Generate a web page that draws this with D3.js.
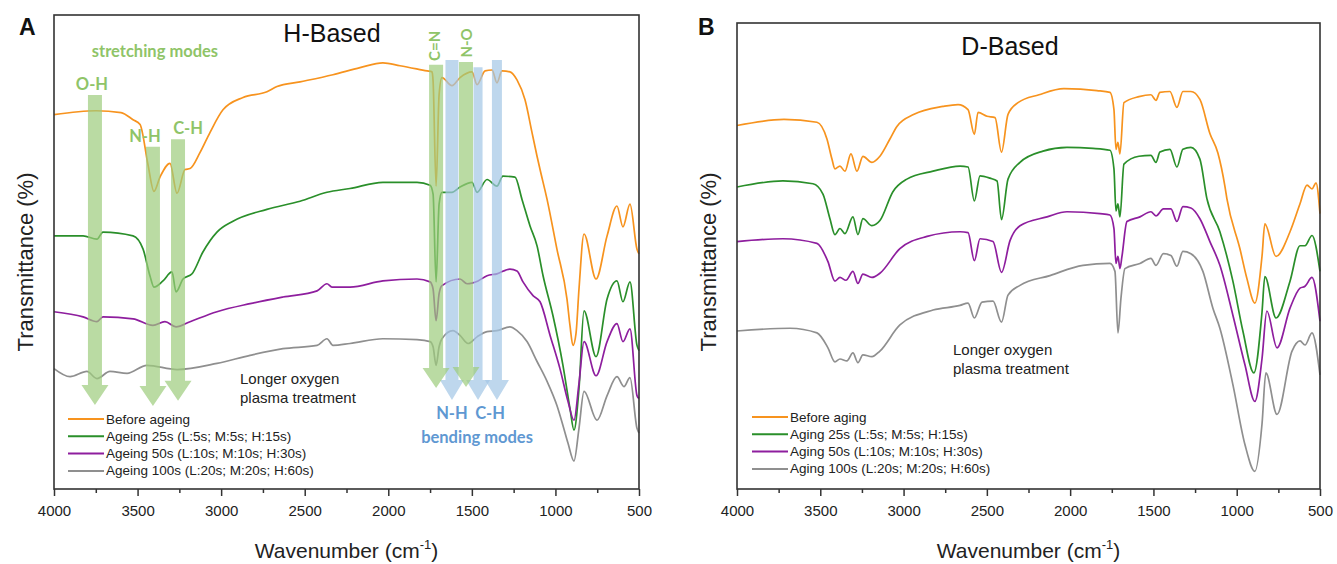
<!DOCTYPE html>
<html>
<head>
<meta charset="utf-8">
<script src="https://cdn.jsdelivr.net/npm/d3@7"></script>
<style>
  body { margin: 0; background: #fff; }
  svg { display: block; font-family: 'Liberation Sans', Arial, sans-serif; }
</style>
</head>
<body>
<svg id="chart" width="1337" height="564"></svg>
<script>
// Wavenumber axis (cm-1), shared by both panels.
const WAVENUMBER_TICKS = [4000, 3500, 3000, 2500, 2000, 1500, 1000, 500];
const WAVENUMBER_MINOR_TICKS = [3750, 3250, 2750, 2250, 1750, 1250, 750];

const SERIES_COLORS = ['#f7931e', '#2a8f2a', '#8e1e9e', '#8f8f8f'];
const H_LEGEND = [
  'Before ageing',
  'Ageing 25s (L:5s; M:5s; H:15s)',
  'Ageing 50s (L:10s; M:10s; H:30s)',
  'Ageing 100s (L:20s; M:20s; H:60s)',
];
const D_LEGEND = [
  'Before aging',
  'Aging 25s (L:5s; M:5s; H:15s)',
  'Aging 50s (L:10s; M:10s; H:30s)',
  'Aging 100s (L:20s; M:20s; H:60s)',
];

// Spectra as [wavenumber, transmittance (offset, a.u.)].
const H_BEFORE = [
  [4000, 79.0], [3749, 79.8], [3599, 79.4], [3527, 77.9], [3485, 76.9],
  [3438, 68.5], [3402, 62.8], [3366, 65.8], [3306, 68.7], [3264, 62.4],
  [3216, 67.4], [3186, 67.6], [3126, 71.0], [3067, 75.2], [2989, 80.0],
  [2869, 82.6], [2726, 83.8], [2666, 84.9], [2528, 85.9], [2331, 87.4],
  [2169, 88.9], [2032, 89.9], [1930, 89.3], [1768, 88.2], [1738, 88.0],
  [1732, 86.1], [1714, 63.9], [1696, 83.2], [1679, 86.8], [1619, 85.1],
  [1571, 86.8], [1499, 88.0], [1469, 85.3], [1421, 88.2], [1379, 88.4],
  [1350, 85.7], [1320, 88.2], [1272, 88.0], [1230, 86.3], [1182, 82.1],
  [1140, 75.2], [1110, 70.2], [1092, 67.4], [1050, 61.1], [991, 50.6],
  [931, 40.1], [913, 34.5], [895, 30.3], [877, 32.8], [859, 42.2],
  [829, 53.8], [757, 44.3], [691, 53.4], [632, 59.7], [596, 55.3],
  [554, 60.1], [512, 50.6], [500, 49.6],
];
const H_AGE25 = [
  [4000, 53.4], [3826, 53.4], [3743, 52.7], [3707, 54.2], [3527, 53.4],
  [3467, 50.6], [3426, 45.0], [3402, 42.6], [3348, 43.9], [3294, 45.8],
  [3270, 41.6], [3228, 44.3], [3174, 45.4], [3109, 50.0], [3025, 54.2],
  [2929, 56.5], [2726, 59.0], [2528, 60.7], [2367, 62.6], [2229, 63.4],
  [2032, 64.7], [1828, 64.7], [1750, 64.1], [1732, 62.2], [1714, 43.7],
  [1696, 60.1], [1679, 62.6], [1619, 62.6], [1571, 63.7], [1499, 64.7],
  [1469, 62.6], [1409, 65.3], [1350, 63.9], [1314, 66.0], [1242, 65.8],
  [1200, 61.1], [1152, 55.5], [1110, 51.3], [1074, 45.0], [1015, 36.6],
  [955, 26.1], [913, 17.0], [889, 12.4], [859, 21.2], [829, 37.6],
  [757, 27.9], [691, 40.1], [632, 43.9], [596, 39.5], [554, 43.7],
  [512, 30.3], [500, 29.2],
];
const H_AGE50 = [
  [4000, 37.4], [3826, 36.3], [3743, 35.3], [3707, 36.3], [3527, 35.9],
  [3408, 34.5], [3336, 35.3], [3270, 34.2], [3186, 35.3], [3025, 37.4],
  [2827, 39.1], [2630, 40.5], [2426, 41.8], [2367, 43.3], [2337, 42.6],
  [2229, 42.6], [2032, 43.9], [1828, 44.3], [1750, 43.7], [1732, 42.2],
  [1714, 35.5], [1696, 41.2], [1679, 42.9], [1571, 44.3], [1529, 43.3],
  [1463, 43.9], [1409, 45.0], [1350, 45.4], [1272, 46.4], [1230, 46.0],
  [1194, 43.7], [1134, 40.8], [1092, 39.5], [1032, 32.4], [973, 25.4],
  [925, 18.5], [889, 14.5], [859, 22.3], [829, 31.1], [757, 23.9],
  [691, 31.1], [632, 34.9], [596, 31.1], [554, 33.8], [512, 19.7],
  [500, 19.1],
];
const H_AGE100 = [
  [4000, 25.4], [3904, 23.7], [3803, 24.8], [3743, 23.3], [3665, 24.8],
  [3563, 24.4], [3444, 26.1], [3264, 25.2], [3025, 26.5], [2827, 28.2],
  [2630, 29.6], [2426, 30.3], [2367, 31.7], [2331, 30.3], [2229, 30.7],
  [2032, 31.7], [1828, 31.5], [1750, 31.1], [1732, 30.0], [1714, 26.1],
  [1696, 30.0], [1679, 31.7], [1613, 33.4], [1571, 32.4], [1523, 30.7],
  [1469, 32.1], [1409, 33.2], [1350, 33.4], [1272, 34.2], [1230, 33.4],
  [1170, 31.1], [1110, 26.9], [1050, 22.7], [991, 17.6], [955, 13.4],
  [925, 9.7], [889, 5.9], [859, 12.8], [829, 20.6], [751, 14.5],
  [691, 19.7], [632, 23.7], [590, 21.6], [554, 23.5], [512, 12.8],
  [500, 11.8],
];

const D_BEFORE = [
  [4000, 78.0], [3718, 79.3], [3520, 78.7], [3460, 75.1], [3430, 70.8],
  [3412, 68.7], [3382, 69.3], [3352, 68.2], [3316, 71.9], [3280, 68.2],
  [3244, 71.4], [3190, 70.1], [3142, 71.4], [3082, 75.1], [3040, 77.8],
  [2937, 80.4], [2763, 82.1], [2673, 82.5], [2613, 81.4], [2575, 76.1],
  [2553, 80.8], [2499, 80.0], [2451, 79.7], [2412, 72.3], [2373, 80.4],
  [2313, 82.9], [2187, 84.6], [2037, 85.9], [1839, 85.5], [1761, 85.1],
  [1737, 81.4], [1725, 72.9], [1713, 74.4], [1701, 71.9], [1677, 82.9],
  [1587, 84.2], [1515, 84.6], [1485, 83.4], [1461, 85.1], [1401, 85.3],
  [1359, 81.9], [1323, 85.3], [1275, 85.3], [1221, 83.6], [1161, 76.3],
  [1113, 72.1], [1071, 65.0], [1059, 62.3], [981, 51.6], [939, 45.2],
  [891, 39.9], [848, 50.0], [831, 56.9], [764, 49.9], [680, 55.2],
  [620, 61.2], [578, 65.2], [548, 64.4], [524, 65.7], [500, 59.1],
];
const D_AGE25 = [
  [4000, 64.8], [3724, 66.1], [3544, 65.5], [3484, 63.3], [3442, 58.0],
  [3412, 54.6], [3382, 55.9], [3352, 54.8], [3304, 58.4], [3274, 54.6],
  [3244, 58.0], [3190, 56.5], [3142, 57.6], [3064, 63.8], [2980, 66.5],
  [2823, 68.2], [2661, 69.3], [2613, 69.1], [2575, 61.8], [2541, 67.2],
  [2481, 66.7], [2439, 66.1], [2412, 57.8], [2373, 66.5], [2301, 70.1],
  [2163, 72.5], [2019, 73.3], [1863, 73.1], [1761, 72.7], [1737, 68.7],
  [1725, 59.7], [1713, 61.2], [1701, 58.4], [1677, 69.7], [1587, 71.4],
  [1515, 71.6], [1485, 70.1], [1461, 72.3], [1401, 72.9], [1359, 69.1],
  [1323, 72.9], [1275, 73.3], [1221, 70.8], [1179, 62.3], [1101, 55.2],
  [1023, 44.6], [963, 33.9], [897, 24.9], [848, 38.0], [831, 45.6],
  [764, 36.7], [680, 44.6], [620, 52.2], [590, 52.2], [548, 54.4],
  [500, 46.7],
];
const D_AGE50 = [
  [4000, 53.1], [3724, 53.7], [3520, 52.7], [3454, 48.8], [3412, 44.6],
  [3382, 45.4], [3346, 44.8], [3304, 46.7], [3274, 44.1], [3244, 46.1],
  [3190, 45.4], [3142, 46.3], [3022, 51.6], [2859, 54.2], [2661, 55.2],
  [2613, 55.0], [2575, 49.0], [2541, 53.7], [2463, 53.1], [2412, 46.5],
  [2361, 53.3], [2301, 56.5], [2139, 58.4], [2019, 59.5], [1821, 59.1],
  [1761, 58.8], [1737, 55.9], [1725, 48.4], [1713, 49.9], [1701, 47.3],
  [1689, 49.9], [1659, 57.4], [1581, 58.4], [1515, 59.5], [1485, 58.6],
  [1440, 60.1], [1395, 60.1], [1359, 57.4], [1323, 60.6], [1275, 60.3],
  [1221, 58.0], [1161, 53.1], [1101, 48.0], [1023, 37.3], [951, 26.7],
  [891, 18.8], [848, 28.0], [819, 38.2], [758, 30.3], [680, 38.8],
  [620, 43.1], [590, 43.5], [548, 45.4], [500, 36.0],
];
const D_AGE100 = [
  [4000, 33.9], [3682, 34.5], [3520, 33.5], [3454, 30.3], [3412, 27.3],
  [3382, 27.9], [3340, 27.5], [3304, 29.2], [3274, 27.1], [3244, 28.8],
  [3190, 28.4], [3142, 29.6], [3022, 35.2], [2823, 38.4], [2661, 39.4],
  [2613, 39.9], [2575, 36.7], [2529, 40.1], [2463, 40.3], [2412, 35.8],
  [2373, 41.6], [2301, 43.7], [2121, 45.8], [1923, 48.0], [1761, 48.4],
  [1731, 46.7], [1713, 33.5], [1695, 40.9], [1671, 47.3], [1581, 48.4],
  [1515, 49.5], [1485, 48.0], [1440, 50.5], [1395, 50.1], [1359, 47.8],
  [1323, 51.0], [1275, 50.5], [1203, 46.7], [1143, 38.8], [1101, 34.5],
  [1023, 22.4], [951, 9.6], [891, 3.8], [848, 14.0], [825, 24.9],
  [758, 16.0], [668, 29.6], [620, 31.8], [590, 30.9], [548, 33.5],
  [500, 24.5],
];

// Band markers in panel A: [wavenumber, top, tip] in plot units.
const STRETCH_ARROWS = [[3755, 83.1, 17.7], [3408, 72.2, 17.5],
  [3258, 73.8, 18.6], [1714, 89.5, 21.3], [1535, 90.1, 21.5]];
const BEND_ARROWS = [[1619, 90.5, 18.8], [1463, 89.0, 18.8],
  [1350, 90.5, 18.8]];
const BEND_SHAFTS = [13, 9, 10];
// Band labels: [text, wavenumber, level].
const STRETCH_LABELS = [['stretching modes', 3396, 91.1], ['O-H', 3773, 84.2],
  ['N-H', 3456, 73.2], ['C-H', 3198, 74.9]];
const VERTICAL_LABELS = [['C=N', 1726, 93.5], ['N-O', 1535, 94.1]];
const BEND_LABELS = [['N-H', 1619, 14.8], ['C-H', 1391, 14.8],
  ['bending modes', 1469, 9.7]];

const GREEN_BAND = '#9ccc7c';
const BLUE_BAND = '#a3c6e6';
const GREEN_TEXT = '#8fc468';
const BLUE_TEXT = '#5f98d2';

const svg = d3.select('#chart');

/**
 * Draws one arrow (shaft + triangular head) pointing down.
 */
function drawArrow(g, cx, yTop, yTip, shaft, head, color) {
  const headH = 20;
  const path = d3.path();
  path.moveTo(cx - shaft / 2, yTop);
  path.lineTo(cx + shaft / 2, yTop);
  path.lineTo(cx + shaft / 2, yTip - headH);
  path.lineTo(cx + head / 2, yTip - headH);
  path.lineTo(cx, yTip);
  path.lineTo(cx - head / 2, yTip - headH);
  path.lineTo(cx - shaft / 2, yTip - headH);
  path.closePath();
  g.append('path')
      .attr('d', path.toString())
      .attr('fill', color)
      .attr('fill-opacity', 0.7);
}

function drawPanel(cfg) {
  const {left, right, top, bottom} = cfg;
  const x = d3.scaleLinear().domain([4000, 500]).range([left, right]);
  const y = d3.scaleLinear().domain([0, 100]).range([bottom, top]);
  const g = svg.append('g');

  const line = d3.line()
      .x(d => x(d[0]))
      .y(d => y(d[1]))
      .curve(d3.curveMonotoneX);

  g.append('g')
      .selectAll('path')
      .data(cfg.series)
      .join('path')
      .attr('d', d => line(d))
      .attr('fill', 'none')
      .attr('stroke', (d, i) => SERIES_COLORS[i])
      .attr('stroke-width', 1.7)
      .attr('stroke-linejoin', 'round');

  if (cfg.bands) {
    cfg.bands(g, x, y);
  }

  // Frame.
  g.append('rect')
      .attr('x', left)
      .attr('y', top)
      .attr('width', right - left)
      .attr('height', bottom - top)
      .attr('fill', 'none')
      .attr('stroke', '#333')
      .attr('stroke-width', 1.6);

  const axis = g.append('g')
      .attr('transform', `translate(0,${bottom})`)
      .call(d3.axisBottom(x)
          .tickValues(WAVENUMBER_TICKS)
          .tickSize(7)
          .tickPadding(9)
          .tickFormat(d3.format('d')));
  axis.select('.domain').remove();
  axis.selectAll('line').attr('stroke', '#333').attr('stroke-width', 1.5);
  axis.selectAll('text')
      .attr('font-size', 15)
      .attr('fill', '#222')
      .attr('font-family', 'Liberation Sans, Arial, sans-serif');

  const minor = g.append('g')
      .attr('transform', `translate(0,${bottom})`)
      .call(d3.axisBottom(x)
          .tickValues(WAVENUMBER_MINOR_TICKS)
          .tickSize(4)
          .tickFormat(''));
  minor.select('.domain').remove();
  minor.selectAll('line').attr('stroke', '#333').attr('stroke-width', 1.5);

  // Axis titles.
  const xTitle = g.append('text')
      .attr('x', (left + right) / 2)
      .attr('y', 558)
      .attr('text-anchor', 'middle')
      .attr('font-size', 21)
      .attr('fill', '#222');
  xTitle.append('tspan').text('Wavenumber (cm');
  xTitle.append('tspan')
      .attr('font-size', 13)
      .attr('dy', -9)
      .text('-1');
  xTitle.append('tspan')
      .attr('dy', 9)
      .text(')');

  g.append('text')
      .attr('transform', `translate(${cfg.yTitleX},262) rotate(-90)`)
      .attr('text-anchor', 'middle')
      .attr('dominant-baseline', 'central')
      .attr('font-size', 22)
      .attr('fill', '#222')
      .text('Transmittance (%)');

  g.append('text')
      .attr('x', cfg.letterX)
      .attr('y', 35)
      .attr('font-size', 23)
      .attr('font-weight', 'bold')
      .attr('fill', '#111')
      .text(cfg.letter);

  g.append('text')
      .attr('x', cfg.titleX)
      .attr('y', cfg.titleY)
      .attr('text-anchor', 'middle')
      .attr('font-size', 25)
      .attr('fill', '#111')
      .text(cfg.title);

  // Note about treatment time.
  const note = g.append('text')
      .attr('x', cfg.noteX)
      .attr('y', cfg.noteY)
      .attr('font-size', 15)
      .attr('fill', '#222');
  note.append('tspan').text('Longer oxygen');
  note.append('tspan')
      .attr('x', cfg.noteX)
      .attr('dy', 19)
      .text('plasma treatment');

  // Legend.
  const legend = g.append('g')
      .selectAll('g')
      .data(cfg.legend)
      .join('g')
      .attr('transform', (d, i) => `translate(${cfg.legendX},${cfg.legendY + i * 17.3})`);
  legend.append('line')
      .attr('x1', 0)
      .attr('x2', 36)
      .attr('stroke', (d, i) => SERIES_COLORS[i])
      .attr('stroke-width', 2);
  legend.append('text')
      .attr('x', 38)
      .attr('dominant-baseline', 'central')
      .attr('font-size', 13.5)
      .attr('fill', '#222')
      .text(d => d);
}

function drawBandsA(g, x, y) {
  const bands = g.append('g');
  BEND_ARROWS.forEach((d, i) =>
    drawArrow(bands, x(d[0]), y(d[1]), y(d[2]), BEND_SHAFTS[i], 24, BLUE_BAND));
  STRETCH_ARROWS.forEach(d =>
    drawArrow(bands, x(d[0]), y(d[1]), y(d[2]), 14, 27, GREEN_BAND));

  const labelFont = 'Lato, "Open Sans", sans-serif';
  bands.selectAll('text.stretch')
      .data(STRETCH_LABELS)
      .join('text')
      .attr('x', d => x(d[1]))
      .attr('y', d => y(d[2]))
      .attr('text-anchor', 'middle')
      .attr('font-family', labelFont)
      .attr('font-weight', 'bold')
      .attr('font-size', 16.5)
      .attr('fill', GREEN_TEXT)
      .text(d => d[0]);
  bands.selectAll('text.vertical')
      .data(VERTICAL_LABELS)
      .join('text')
      .attr('transform', d => `translate(${x(d[1])},${y(d[2])}) rotate(-90)`)
      .attr('text-anchor', 'middle')
      .attr('dominant-baseline', 'central')
      .attr('font-family', labelFont)
      .attr('font-weight', 'bold')
      .attr('font-size', 15)
      .attr('fill', GREEN_TEXT)
      .text(d => d[0]);
  bands.selectAll('text.bend')
      .data(BEND_LABELS)
      .join('text')
      .attr('x', d => x(d[1]))
      .attr('y', d => y(d[2]))
      .attr('text-anchor', 'middle')
      .attr('font-family', labelFont)
      .attr('font-weight', 'bold')
      .attr('font-size', 16.5)
      .attr('fill', BLUE_TEXT)
      .text(d => d[0]);
}

drawPanel({
  left: 54, right: 639, top: 15, bottom: 489,
  series: [H_BEFORE, H_AGE25, H_AGE50, H_AGE100],
  legend: H_LEGEND, legendX: 68, legendY: 419,
  title: 'H-Based', titleX: 332, titleY: 42,
  letter: 'A', letterX: 19, yTitleX: 25,
  noteX: 240, noteY: 384,
  bands: drawBandsA,
});

drawPanel({
  left: 737, right: 1320, top: 23, bottom: 489,
  series: [D_BEFORE, D_AGE25, D_AGE50, D_AGE100],
  legend: D_LEGEND, legendX: 752, legendY: 417,
  title: 'D-Based', titleX: 1010, titleY: 55,
  letter: 'B', letterX: 698, yTitleX: 708,
  noteX: 953, noteY: 355,
});
</script>
</body>
</html>
